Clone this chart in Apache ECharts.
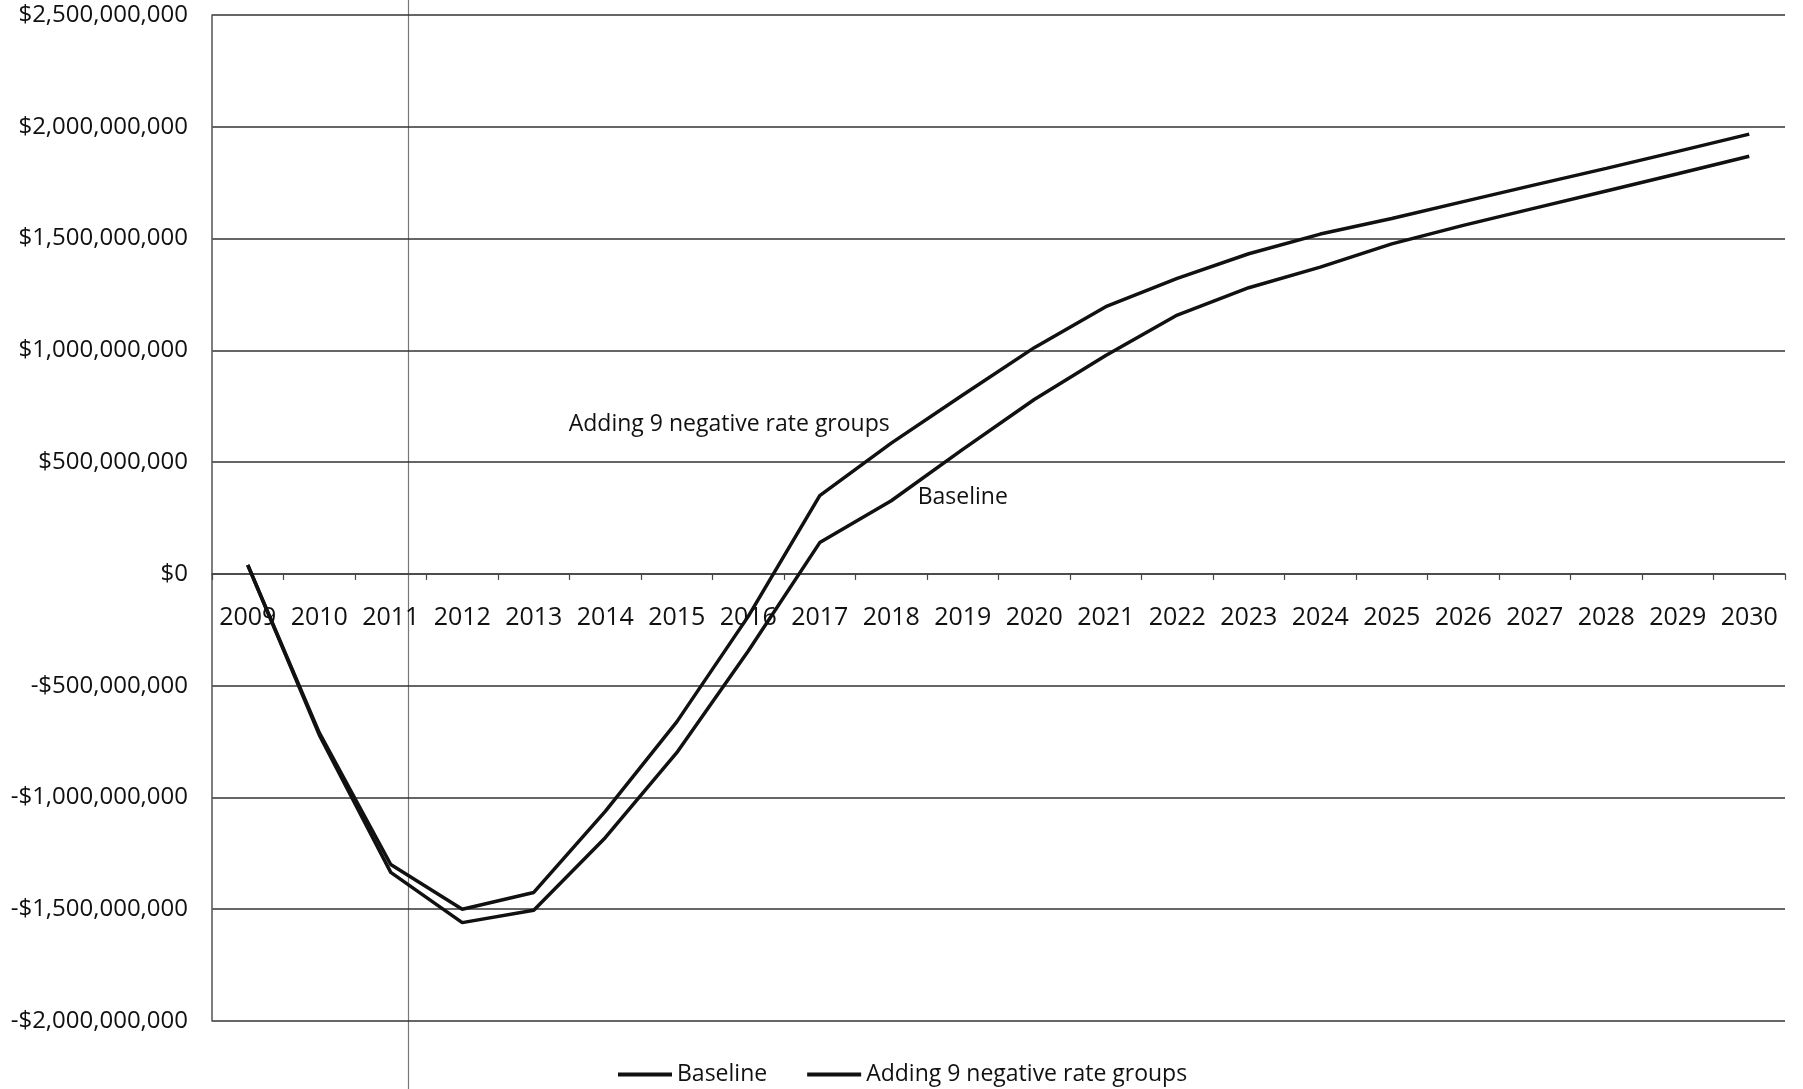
<!DOCTYPE html>
<html>
<head>
<meta charset="utf-8">
<script src="https://cdn.jsdelivr.net/npm/echarts@6/dist/echarts.min.js"></script>
<style>
html,body{margin:0;padding:0;background:#fff;}
#chart{width:1803px;height:1089px;}
</style>
</head>
<body>
<div id="chart"></div>
<script>
const years = ['2009','2010','2011','2012','2013','2014','2015','2016','2017','2018','2019','2020','2021','2022','2023','2024','2025','2026','2027','2028','2029','2030'];
const baseline = [40e6, -720e6, -1335e6, -1560e6, -1505e6, -1180e6, -800e6, -345e6, 140e6, 327e6, 557e6, 780e6, 977e6, 1158e6, 1280e6, 1372e6, 1476e6, 1559e6, 1636e6, 1713e6, 1790e6, 1868e6];
const adding = [40e6, -710e6, -1300e6, -1500e6, -1425e6, -1062e6, -662e6, -190e6, 350e6, 585e6, 800e6, 1012e6, 1195e6, 1322e6, 1432e6, 1520e6, 1590e6, 1665e6, 1740e6, 1814e6, 1890e6, 1967e6];
const seriesNames = ['Baseline', 'Adding 9 negative rate groups'];
const yMin = -2000000000, yMax = 2500000000, yStep = 500000000;

const FONT = '"Open Sans", sans-serif';
function money(v){
  const s = Math.abs(v).toString().replace(/\B(?=(\d{3})+(?!\d))/g, ',');
  return (v < 0 ? '-$' : '$') + s;
}

const W = 1803, H = 1089;
const gridTop = 15, gridBottom = 68;
const plotH = H - gridTop - gridBottom;
// move the category axis (line, ticks, labels) up to the zero value
const zeroOffset = -plotH * (0 - yMin) / (yMax - yMin);

const chart = echarts.init(document.getElementById('chart'), null, {renderer:'canvas', width: W, height: H});
chart.setOption({
  backgroundColor: '#ffffff',
  animation: false,
  textStyle: {fontFamily: FONT, color: '#111'},
  grid: {left: 212, right: 18, top: gridTop, bottom: gridBottom, containLabel: false},
  xAxis: {
    type: 'category',
    data: years,
    boundaryGap: true,
    position: 'bottom',
    offset: zeroOffset,
    axisLine: {onZero: false, lineStyle: {color: '#444', width: 1.5}},
    axisTick: {show: true, length: 6, lineStyle: {color: '#444', width: 1.2}},
    axisLabel: {fontFamily: FONT, fontSize: 25, color: '#111', margin: 31, interval: 0}
  },
  yAxis: {
    type: 'value',
    min: yMin,
    max: yMax,
    interval: yStep,
    axisLine: {show: true, lineStyle: {color: '#555', width: 1.5}},
    axisTick: {show: false},
    splitLine: {show: true, lineStyle: {color: '#333', width: 1.6}},
    axisLabel: {fontFamily: FONT, fontSize: 24, color: '#111', margin: 24, formatter: money}
  },
  legend: {
    data: seriesNames,
    left: 613,
    top: 1058,
    itemWidth: 54,
    itemHeight: 4,
    itemGap: 40,
    icon: 'rect',
    textStyle: {fontFamily: FONT, fontSize: 23, color: '#111'}
  },
  series: [
    {
      name: seriesNames[0],
      type: 'line',
      data: baseline,
      symbol: 'none',
      lineStyle: {color: '#111', width: 3.5},
      itemStyle: {color: '#111'},
      markPoint: {
        symbol: 'circle', symbolSize: 0,
        data: [{coord: ['2019', 341e6], value: 'Baseline'}],
        label: {show: true, position: 'inside', formatter: 'Baseline', fontFamily: FONT, fontSize: 23, color: '#111'}
      }
    },
    {
      name: seriesNames[1],
      type: 'line',
      data: adding,
      symbol: 'none',
      lineStyle: {color: '#111', width: 3.5},
      itemStyle: {color: '#111'},
      markPoint: {
        symbol: 'circle', symbolSize: 0,
        data: [{coord: ['2016', 670e6], value: 'Adding'}],
        label: {show: true, position: 'inside', offset: [-19, 0], formatter: 'Adding 9 negative rate groups', fontFamily: FONT, fontSize: 23, color: '#111'}
      }
    }
  ],
  graphic: [
    {type: 'line', shape: {x1: 408.5, y1: 0, x2: 408.5, y2: 1089}, style: {stroke: '#777', lineWidth: 1.2}, silent: true}
  ]
});
</script>
</body>
</html>
